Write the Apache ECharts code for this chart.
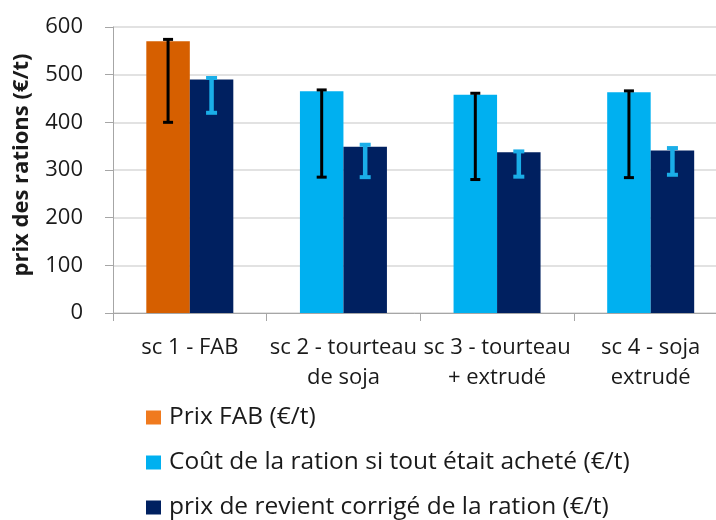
<!DOCTYPE html>
<html>
<head>
<meta charset="utf-8">
<script src="https://cdn.jsdelivr.net/npm/echarts@6/dist/echarts.min.js"></script>
<style>html,body{margin:0;padding:0;background:#fff;}#c{width:716px;height:520px;}</style>
</head>
<body>
<div id="c"></div>
<script>
const categories = ['sc 1 - FAB', 'sc 2 - tourteau\nde soja', 'sc 3 - tourteau\n+ extrudé', 'sc 4 - soja\nextrudé'];
const seriesNames = ['Prix FAB (€/t)', 'Coût de la ration si tout était acheté (€/t)', 'prix de revient corrigé de la ration (€/t)'];
const prixFAB = [570, null, null, null];
const coutAchete = [null, 465, 458, 463];
const prixCorrige = [490, 349, 337, 341];
const errFirstLow = [400, 285, 280, 284];
const errFirstHigh = [574, 468, 461, 466];
const errCorrLow = [420, 285, 286, 290];
const errCorrHigh = [493, 353, 339, 346];
const yTicks = [0, 100, 200, 300, 400, 500, 600];

const FONT = 'Open Sans';
const BAR_W = 43.5;

function errSeries(low, high, offset, color, lw, capW, capLw) {
  return {
    type: 'custom',
    z: 10,
    data: low.map((l, i) => [i, l, high[i]]),
    renderItem: function (params, api) {
      const lo = api.coord([api.value(0), api.value(1)]);
      const hi = api.coord([api.value(0), api.value(2)]);
      const x = lo[0] + offset;
      return {
        type: 'group',
        children: [
          { type: 'line', shape: { x1: x, y1: lo[1], x2: x, y2: hi[1] }, style: { stroke: color, lineWidth: lw } },
          { type: 'line', shape: { x1: x - capW / 2, y1: lo[1], x2: x + capW / 2, y2: lo[1] }, style: { stroke: color, lineWidth: capLw } },
          { type: 'line', shape: { x1: x - capW / 2, y1: hi[1], x2: x + capW / 2, y2: hi[1] }, style: { stroke: color, lineWidth: capLw } }
        ]
      };
    }
  };
}

const chart = echarts.init(document.getElementById('c'), null, { renderer: 'canvas' });
chart.setOption({
  animation: false,
  backgroundColor: '#fff',
  textStyle: { fontFamily: FONT },
  grid: { left: 113, top: 27, bottom: 207, right: -11.5, containLabel: false, outerBoundsMode: 'none' },
  legend: {
    orient: 'vertical',
    left: 146,
    top: 405,
    height: 200,
    padding: 0,
    itemWidth: 15,
    itemHeight: 14,
    itemGap: 20,
    icon: 'rect',
    data: [
      { name: seriesNames[0], itemStyle: { color: '#F07A1E' } },
      { name: seriesNames[1] },
      { name: seriesNames[2] }
    ],
    textStyle: { fontFamily: FONT, fontSize: 24.5, color: '#1a1a1a', lineHeight: 24, padding: [0, 0, 0, 3] }
  },
  xAxis: {
    type: 'category',
    data: categories,
    axisLine: { lineStyle: { color: '#A6A6A6', width: 1 } },
    axisTick: { show: true, length: 8, lineStyle: { color: '#A6A6A6' } },
    axisLabel: { interval: 0, fontFamily: FONT, fontSize: 22, color: '#1a1a1a', lineHeight: 30, margin: 20 }
  },
  yAxis: {
    type: 'value',
    min: yTicks[0],
    max: yTicks[yTicks.length - 1],
    interval: yTicks[1] - yTicks[0],
    name: 'prix des rations (€/t)',
    nameLocation: 'middle',
    nameGap: 80,
    nameRotate: 90,
    nameTextStyle: { fontFamily: FONT, fontSize: 22, fontWeight: 'bold', color: '#1a1a1a', padding: [0, 0, 0, 10] },
    axisLine: { show: true, lineStyle: { color: '#A6A6A6', width: 1 } },
    axisTick: { show: true, length: 8, inside: false, lineStyle: { color: '#A6A6A6' } },
    axisLabel: { fontFamily: FONT, fontSize: 22, color: '#1a1a1a', margin: 30 },
    splitLine: { lineStyle: { color: '#D9D9D9', width: 1.5 } }
  },
  series: [
    { name: seriesNames[0], type: 'bar', stack: 'a', barWidth: BAR_W, barGap: '0%', data: prixFAB, itemStyle: { color: '#D65F00' } },
    { name: seriesNames[1], type: 'bar', stack: 'a', barWidth: BAR_W, barGap: '0%', data: coutAchete, itemStyle: { color: '#00B0F0' } },
    { name: seriesNames[2], type: 'bar', barWidth: BAR_W, barGap: '0%', data: prixCorrige, itemStyle: { color: '#002060' } },
    errSeries(errFirstLow, errFirstHigh, -BAR_W / 2, '#000000', 3, 10, 3),
    errSeries(errCorrLow, errCorrHigh, BAR_W / 2, '#1AAEE8', 4.5, 11, 4)
  ]
});
</script>
</body>
</html>
